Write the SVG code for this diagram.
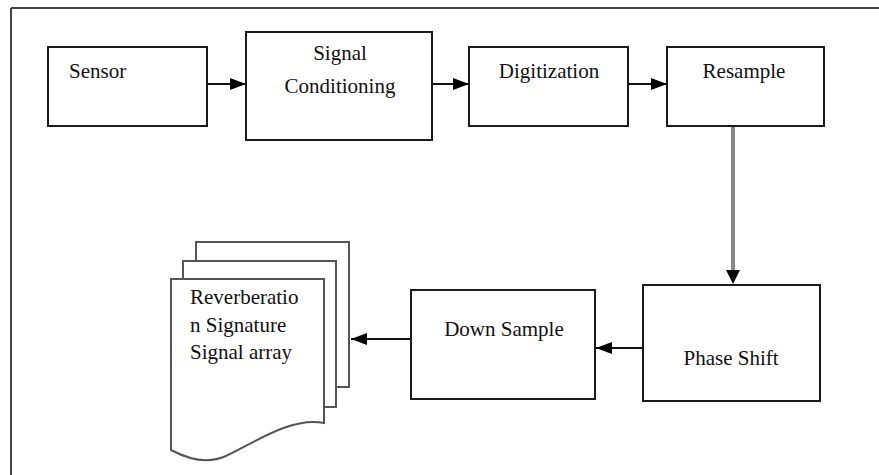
<svg xmlns="http://www.w3.org/2000/svg" width="879" height="475" viewBox="0 0 879 475">
  <style>
    .box { fill: #fff; stroke: #1a1a1a; stroke-width: 2; }
    .page { fill: #fff; stroke: #555; stroke-width: 2; stroke-linejoin: miter; }
    .lbl { font-family: "Liberation Serif", "Times New Roman", serif; font-size: 21px; fill: #111; }
    .mid { text-anchor: middle; }
    .wire { stroke: #111; stroke-width: 2; fill: none; }
    .wire-gray { stroke: #888; stroke-width: 4; fill: none; }
  </style>
  <defs>
    <marker id="head" viewBox="0 0 16 12" refX="16" refY="6" markerWidth="16" markerHeight="12" markerUnits="userSpaceOnUse" orient="auto">
      <path d="M0,0 L16,6 L0,12 Z" fill="#000"/>
    </marker>
  </defs>

  <rect width="879" height="475" fill="#fff"/>

  <!-- frame: top and left edges only -->
  <g id="frame" fill="none" stroke="#444" stroke-width="2">
    <line x1="11" y1="8" x2="879" y2="8"/>
    <line x1="11" y1="8" x2="11" y2="475"/>
  </g>

  <g id="connectors">
    <line class="wire" x1="207" y1="84" x2="246" y2="84" marker-end="url(#head)"/>
    <line class="wire" x1="432" y1="84" x2="469" y2="84" marker-end="url(#head)"/>
    <line class="wire" x1="628" y1="84" x2="667" y2="84" marker-end="url(#head)"/>
    <line class="wire-gray" x1="733" y1="127" x2="733" y2="270"/>
    <path d="M726,270 L740,270 L733,284 Z" fill="#000"/>
    <line class="wire" x1="643" y1="348" x2="596" y2="348" marker-end="url(#head)"/>
    <line class="wire" x1="411" y1="339" x2="351" y2="339" marker-end="url(#head)"/>
  </g>

  <g id="sensor">
    <rect class="box" x="48" y="47" width="159" height="79"/>
    <text class="lbl" x="69" y="78">Sensor</text>
  </g>

  <g id="signal-conditioning">
    <rect class="box" x="246" y="32" width="186" height="108"/>
    <text class="lbl mid" x="340" y="60">Signal</text>
    <text class="lbl mid" x="340" y="93">Conditioning</text>
  </g>

  <g id="digitization">
    <rect class="box" x="469" y="47" width="159" height="79"/>
    <text class="lbl mid" x="549" y="78">Digitization</text>
  </g>

  <g id="resample">
    <rect class="box" x="667" y="47" width="157" height="79"/>
    <text class="lbl mid" x="744" y="78">Resample</text>
  </g>

  <g id="phase-shift">
    <rect class="box" x="643" y="285" width="177" height="116"/>
    <text class="lbl mid" x="731" y="365">Phase Shift</text>
  </g>

  <g id="down-sample">
    <rect class="box" x="411" y="290" width="184" height="109"/>
    <text class="lbl mid" x="504" y="336">Down Sample</text>
  </g>

  <g id="signature-array">
    <path class="page" d="M196,261 V242 H349 V387 H336"/>
    <path class="page" d="M183,279 V261 H336 V407 H324"/>
    <path class="page" d="M171,279 H324 V423 C292,416 252,444 226,456 C206,465 186,458 171,450 Z"/>
    <text class="lbl" x="190" y="304">Reverberatio</text>
    <text class="lbl" x="190" y="332">n Signature</text>
    <text class="lbl" x="190" y="359">Signal array</text>
  </g>
</svg>
